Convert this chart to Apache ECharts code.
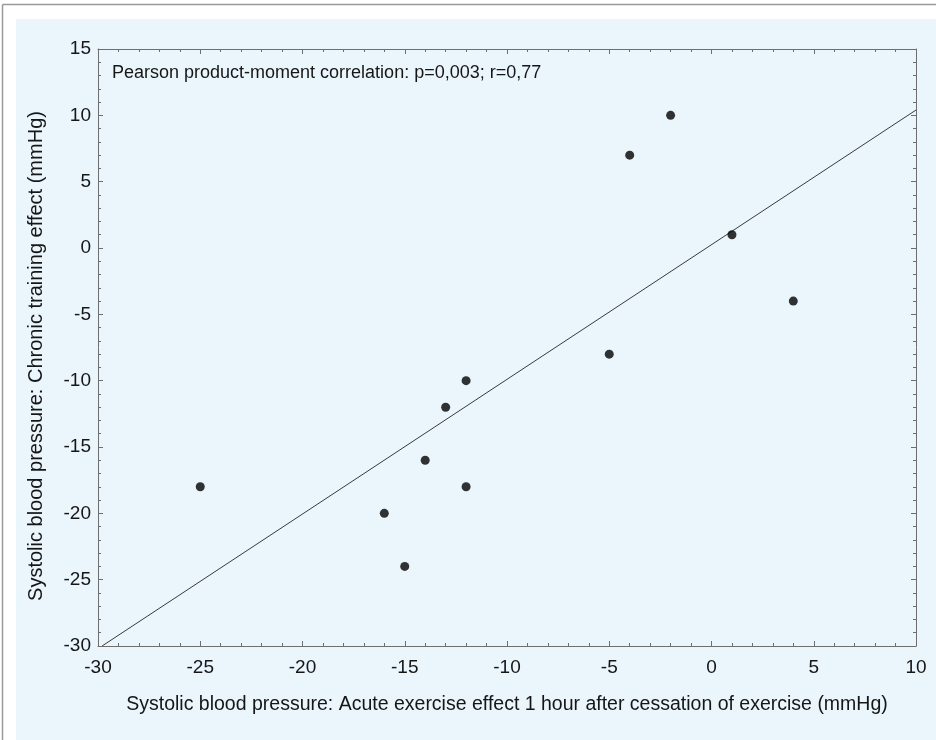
<!DOCTYPE html>
<html>
<head>
<meta charset="utf-8">
<style>
html,body{margin:0;padding:0;background:#fff;}
#chart{width:936px;height:740px;}
</style>
<script src="https://cdn.jsdelivr.net/npm/echarts@6/dist/echarts.min.js"></script>
</head>
<body>
<div id="chart"></div>
<script>
// Data
var acuteEffect   = [-25, -16, -15, -14, -13, -12, -12, -5, -4, -2, 1, 4];
var chronicEffect = [-18, -20, -24, -16, -12, -10, -18, -8, 7, 10, 1, -4];
var fitLineX = [-29.8, 10];
var fitLineY = [-30, 10.4];
var xTicks = [-30, -25, -20, -15, -10, -5, 0, 5, 10];
var yTicks = [-30, -25, -20, -15, -10, -5, 0, 5, 10, 15];
var annotation = 'Pearson product-moment correlation: p=0,003; r=0,77';
var xTitle = 'Systolic blood pressure: Acute exercise effect 1 hour after cessation of exercise (mmHg)';
var yTitle = 'Systolic blood pressure: Chronic training effect (mmHg)';

var points = acuteEffect.map(function (x, i) { return [x, chronicEffect[i]]; });
var fitLine = fitLineX.map(function (x, i) { return [x, fitLineY[i]]; });

var FONT = '"Liberation Sans", Arial, sans-serif';
var AX = '#6e6e6e';
var TXT = '#161616';

function axisBase(extra) {
  var base = {
    type: 'value',
    axisLine: { show: true, onZero: false, lineStyle: { color: AX, width: 1 } },
    axisTick: { show: true, inside: true, length: 5, lineStyle: { color: AX, width: 1 } },
    minorTick: { show: true, splitNumber: 5, length: 3, lineStyle: { color: AX, width: 1 } },
    splitLine: { show: false },
    minorSplitLine: { show: false }
  };
  for (var k in extra) base[k] = extra[k];
  return base;
}

var chart = echarts.init(document.getElementById('chart'), null, { renderer: 'canvas' });
chart.setOption({
  animation: false,
  backgroundColor: '#ffffff',
  textStyle: { fontFamily: FONT },
  grid: { left: 98, right: 20, top: 49, bottom: 94 },
  graphic: [
    { type: 'rect', z: -10, shape: { x: 16, y: 19, width: 920, height: 721 }, style: { fill: '#eaf5fc' }, silent: true },
    { type: 'line', z: -5, shape: { x1: 2.5, y1: 4.5, x2: 936, y2: 4.5 }, style: { stroke: '#9a9a9a', lineWidth: 1.5 }, silent: true },
    { type: 'line', z: -5, shape: { x1: 2.5, y1: 4.5, x2: 2.5, y2: 740 }, style: { stroke: '#9a9a9a', lineWidth: 1.5 }, silent: true },
    { type: 'text', z: 10, left: 112, top: 64, style: { text: annotation, fill: TXT, font: '18px ' + FONT } },
    { type: 'text', z: 10, x: 36, y: 356, rotation: Math.PI / 2,
      style: { text: yTitle, fill: TXT, font: '20px ' + FONT, textAlign: 'center', textVerticalAlign: 'middle' } }
  ],
  xAxis: [
    axisBase({
      position: 'bottom', min: -30, max: 10, interval: 5,
      axisLabel: { show: true, margin: 12, color: TXT, fontSize: 19, fontFamily: FONT,
        formatter: function (v) { return xTicks.indexOf(v) >= 0 ? String(v) : ''; } },
      name: xTitle, nameLocation: 'middle', nameGap: 49,
      nameTextStyle: { color: TXT, fontSize: 19.5, fontFamily: FONT }
    }),
    axisBase({ position: 'top', min: -30, max: 10, interval: 5, axisLabel: { show: false } })
  ],
  yAxis: [
    axisBase({
      position: 'left', min: -30, max: 15, interval: 5,
      axisLabel: { show: true, margin: 7, color: TXT, fontSize: 19, fontFamily: FONT,
        formatter: function (v) { return yTicks.indexOf(v) >= 0 ? String(v) : ''; } }
    }),
    axisBase({ position: 'right', min: -30, max: 15, interval: 5, axisLabel: { show: false } })
  ],
  series: [
    {
      type: 'line', data: fitLine, xAxisIndex: 0, yAxisIndex: 0,
      showSymbol: false, symbol: 'none', silent: true,
      lineStyle: { color: '#3a3a3a', width: 1 }, z: 2
    },
    {
      type: 'scatter', data: points, xAxisIndex: 0, yAxisIndex: 0,
      symbol: 'circle', symbolSize: 9, itemStyle: { color: '#000000' }, z: 3
    }
  ]
});
</script>
</body>
</html>
